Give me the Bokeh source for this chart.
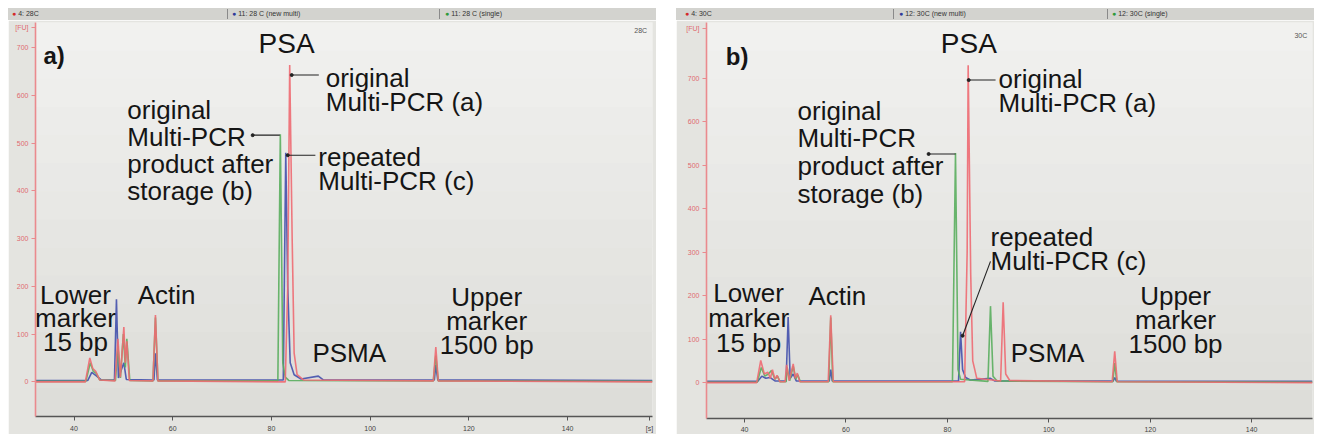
from bokeh.plotting import figure
from bokeh.models import FixedTicker, Label, Div, ColumnDataSource, BoxAnnotation
from bokeh.layouts import row, column
from bokeh.core.properties import value
from bokeh.embed import file_html
from bokeh.resources import INLINE

# ---------------- data: panel a) (28C) : migration time [s] / fluorescence [FU]
A_RED_T = [32.2, 42.3, 43.2, 43.8, 44.4, 45.2, 48.3, 48.9, 49.4, 50.1, 50.4, 50.7, 51.2,
           56.0, 56.5, 57.0, 82.8, 83.3, 83.7, 84.2, 84.6, 85.2, 86.5, 112.8, 113.3, 113.8, 157.2]
A_RED_V = [0, 0, 50, 28, 22, 4, 2, 90, 10, 115, 40, 85, 3,
           2, 140, 2, 0, 200, 664, 300, 60, 15, 4, 2, 73, 2, 0]
A_GREEN_T = [32.2, 42.4, 43.3, 43.9, 44.5, 45.2, 48.4, 48.9, 49.4, 50.0, 50.4, 50.7, 51.3,
             56.0, 56.5, 57.0, 81.3, 81.8, 82.3, 82.8, 83.5, 112.8, 113.3, 113.8, 157.2]
A_GREEN_V = [1, 1, 40, 22, 18, 4, 3, 75, 8, 100, 30, 90, 3,
             2, 135, 2, 2, 519, 40, 10, 3, 2, 55, 2, 1]
A_BLUE_T = [32.2, 42.8, 43.6, 44.6, 45.5, 48.2, 48.6, 49.0, 50.1, 50.6, 56.2, 56.5, 56.9,
            82.4, 82.9, 83.3, 83.8, 84.6, 86.0, 89.5, 90.5, 113.0, 113.3, 113.7, 157.2]
A_BLUE_V = [3, 3, 20, 12, 4, 4, 173, 8, 40, 5, 4, 60, 4,
            4, 480, 200, 40, 15, 6, 12, 4, 4, 35, 4, 3]

# ---------------- data: panel b) (30C)
B_RED_T = [32.5, 42.4, 43.2, 43.9, 44.6, 45.1, 45.5, 46.0, 46.4, 47.0, 48.0, 48.3, 48.8,
           49.6, 50.0, 50.4, 50.9, 56.5, 57.0, 57.5, 83.4, 83.9, 84.1, 84.6, 85.0, 85.8,
           90.5, 91.0, 91.5, 92.3, 112.5, 113.0, 113.5, 152.0]
B_RED_V = [0, 0, 51, 20, 24, 10, 30, 8, 17, 2, 2, 41, 5,
           43, 10, 22, 2, 2, 155, 2, 2, 300, 730, 250, 50, 10,
           4, 185, 20, 5, 2, 72, 2, 0]
B_GREEN_T = [32.5, 42.5, 43.3, 44.0, 44.7, 45.3, 46.0, 46.5, 47.0, 48.2, 48.4, 48.9, 49.6,
             50.1, 50.5, 51.0, 56.6, 57.0, 57.4, 81.0, 81.6, 82.1, 82.6, 88.0, 88.5, 89.0,
             89.8, 112.6, 113.0, 113.4, 152.0]
B_GREEN_V = [1, 1, 35, 15, 20, 28, 8, 15, 2, 2, 35, 4, 38,
             8, 18, 2, 2, 150, 2, 2, 528, 30, 8, 3, 176, 15,
             4, 2, 45, 2, 1]
B_BLUE_T = [32.5, 42.6, 43.4, 44.2, 45.0, 46.0, 48.2, 48.6, 49.0, 49.6, 50.2, 56.7, 57.0,
            57.3, 82.2, 82.6, 83.0, 83.6, 84.5, 88.5, 89.3, 112.7, 113.0, 113.3, 152.0]
B_BLUE_V = [3, 3, 15, 10, 12, 4, 4, 151, 10, 20, 4, 4, 30,
            4, 4, 117, 30, 12, 6, 10, 4, 4, 12, 4, 3]

X_TICKS = [40, 60, 80, 100, 120, 140]
Y_TICKS = [0, 100, 200, 300, 400, 500, 600, 700]
LEGEND_A = ["4: 28C", "11: 28 C (new multi)", "11: 28 C (single)"]
LEGEND_B = ["4: 30C", "12: 30C (new multi)", "12: 30C (single)"]

# ---------------- styling / layout
RED = "#ee6a72"
GREEN = "#5aae5e"
BLUE = "#4350ac"
TXT = "#151515"
FONT = "Liberation Sans"
BORDER_BG = "#e4e4e0"
BG_TOP = (241, 241, 239)      # background shading of the instrument screen (top -> bottom)
BG_BOTTOM = (221, 221, 217)
N_BANDS = 14

# (text, x, y(top), size, style, align, line height)
ANN_A = [
    ("a)", 33.8, 712, "24px", "bold", "left", 1.0),
    ("PSA", 77.4, 741, "28px", "normal", "left", 1.0),
    ("original\nMulti-PCR (a)", 91.0, 668, "26px", "normal", "left", 0.80),
    ("original\nMulti-PCR\nproduct after\nstorage (b)", 50.8, 602, "26px", "normal", "left", 0.90),
    ("repeated\nMulti-PCR (c)", 89.5, 502, "26px", "normal", "left", 0.80),
    ("Lower\nmarker\n15 bp", 40.3, 214, "26px", "normal", "center", 0.79),
    ("Actin", 52.9, 213, "26px", "normal", "left", 1.0),
    ("PSMA", 88.3, 91, "26px", "normal", "left", 1.0),
    ("Upper\nmarker\n1500 bp", 123.6, 209, "26px", "normal", "center", 0.79),
]
LEAD_A = [(84.1, 643, 89.6, 643), (76.2, 517, 81.7, 517), (83.3, 475, 88.9, 475)]
ANN_B = [
    ("b)", 36.3, 782, "24px", "bold", "left", 1.0),
    ("PSA", 78.7, 815, "28px", "normal", "left", 1.0),
    ("original\nMulti-PCR (a)", 90.1, 734, "26px", "normal", "left", 0.80),
    ("original\nMulti-PCR\nproduct after\nstorage (b)", 50.45, 660, "26px", "normal", "left", 0.92),
    ("repeated\nMulti-PCR (c)", 88.5, 370, "26px", "normal", "left", 0.80),
    ("Lower\nmarker\n15 bp", 40.8, 240, "26px", "normal", "center", 0.82),
    ("Actin", 52.6, 235, "26px", "normal", "left", 1.0),
    ("PSMA", 92.5, 103, "26px", "normal", "left", 1.0),
    ("Upper\nmarker\n1500 bp", 125.0, 233, "26px", "normal", "center", 0.80),
]
LEAD_B = [(84.2, 696, 89.5, 696), (76.3, 526, 81.6, 526), (83.0, 108, 88.5, 279)]


def legend_div(width, items, offsets, seps):
    colors = ["#d42a2a", "#2f3a9a", "#2e9a3a"]
    parts = []
    for it, off, c in zip(items, offsets, colors):
        parts.append(f'<span style="position:absolute;left:{off}px;top:0px;white-space:nowrap;">'
                     f'<span style="color:{c};">&#9679;</span>&nbsp;{it}</span>')
    for s in seps:
        parts.append(f'<span style="position:absolute;left:{s}px;top:1px;width:0;height:10px;'
                     f'border-left:1px solid #8a8a8a;"></span>')
    html = (f'<div style="position:relative;width:{width}px;height:12px;background:#d3d3cf;'
            f'font-family:\'{FONT}\',sans-serif;font-size:7px;line-height:12px;color:#333;">'
            + "".join(parts) + '</div>')
    return Div(text=html, width=width, height=12, margin=(0, 0, 0, 0))


def shade(p, y0, y1):
    step = (y1 - y0) / N_BANDS
    for i in range(N_BANDS):
        f = i / (N_BANDS - 1)
        c = tuple(int(round(BG_BOTTOM[k] + (BG_TOP[k] - BG_BOTTOM[k]) * f)) for k in range(3))
        p.add_layout(BoxAnnotation(bottom=y0 + i * step, top=y0 + (i + 1) * step + step * 0.05,
                                   fill_color="#%02x%02x%02x" % c, fill_alpha=1.0,
                                   line_color=None, level="underlay"))


def make_panel(width, ml, mr, xr, yr, traces, ann, leads, fu_v, corner, s_t):
    p = figure(width=width, height=414, x_range=xr, y_range=yr,
               output_backend="svg", toolbar_location=None,
               min_border_left=ml, min_border_right=mr, min_border_top=2, min_border_bottom=14,
               background_fill_color=BORDER_BG, border_fill_color=BORDER_BG,
               outline_line_color=None, margin=(0, 0, 0, 0))
    p.grid.visible = False
    shade(p, yr[0], yr[1])
    # axes ("[FU]" and "[s]" unit captions sit at the axis ends like in the instrument plot)
    xt = X_TICKS + ([s_t] if s_t is not None else [])
    p.xaxis.ticker = FixedTicker(ticks=xt)
    if s_t is not None:
        p.xaxis.major_label_overrides = {s_t: "[s]"}
    p.yaxis.ticker = FixedTicker(ticks=Y_TICKS + [fu_v])
    p.yaxis.major_label_overrides = {fu_v: "[FU]"}
    p.xaxis.axis_line_color = "#555555"
    p.xaxis.axis_line_width = 1.3
    p.xaxis.major_tick_line_color = "#555555"
    p.xaxis.major_tick_out = 4
    p.xaxis.major_tick_in = 0
    p.xaxis.minor_tick_line_color = None
    p.xaxis.major_label_text_font = FONT
    p.xaxis.major_label_text_font_size = "7px"
    p.xaxis.major_label_text_color = "#444444"
    p.xaxis.major_label_standoff = 4
    p.yaxis.axis_line_color = "#ea8a8e"
    p.yaxis.axis_line_width = 1.6
    p.yaxis.major_tick_line_color = "#ea8a8e"
    p.yaxis.major_tick_out = 4
    p.yaxis.major_tick_in = 0
    p.yaxis.minor_tick_line_color = None
    p.yaxis.major_label_text_font = FONT
    p.yaxis.major_label_text_font_size = "7px"
    p.yaxis.major_label_text_color = "#e06a70"
    p.yaxis.major_label_standoff = 3

    for (t, v), col in zip(traces, [BLUE, GREEN, RED]):
        p.line(t, v, line_color=col, line_width=1.6, line_alpha=0.9)

    for txt, x, y, size, style, align, lh in ann:
        p.text(x=[x], y=[y], text=[txt], text_font=value(FONT), text_font_size=size,
               text_font_style=style, text_align=align, text_baseline="top",
               text_line_height=lh, text_color=TXT)

    src = ColumnDataSource(dict(x0=[l[0] for l in leads], y0=[l[1] for l in leads],
                                x1=[l[2] for l in leads], y1=[l[3] for l in leads]))
    p.segment("x0", "y0", "x1", "y1", source=src, line_color="#222222", line_width=1.1)
    p.scatter("x0", "y0", source=src, size=3, color="#222222")

    p.add_layout(Label(x=corner[0], y=corner[1], text=corner[2], text_font=FONT,
                       text_font_size="7px", text_color="#555555", text_align="center",
                       text_baseline="middle"))
    return p


pa = make_panel(648, 27, 4, (32.2, 157.2), (-72.6, 753.1),
                [(A_BLUE_T, A_BLUE_V), (A_GREEN_T, A_GREEN_V), (A_RED_T, A_RED_V)],
                ANN_A, LEAD_A, 743, (154.8, 736, "28C"), 156.6)
pb = make_panel(638, 30, 2, (32.5, 152.0), (-82.4, 828.4),
                [(B_BLUE_T, B_BLUE_V), (B_GREEN_T, B_GREEN_V), (B_RED_T, B_RED_V)],
                ANN_B, LEAD_B, 814, (149.7, 798, "30C"), None)

da = legend_div(648, LEGEND_A, [4, 224, 437], [219, 431])
db = legend_div(638, LEGEND_B, [9, 223, 436], [217, 431])

layout = row(column(da, pa, spacing=0, margin=(0, 0, 0, 0)),
             column(db, pb, spacing=0, margin=(0, 0, 0, 0)),
             spacing=20, margin=(8, 0, 0, 8))

open("out.html", "w").write(file_html(layout, INLINE))
